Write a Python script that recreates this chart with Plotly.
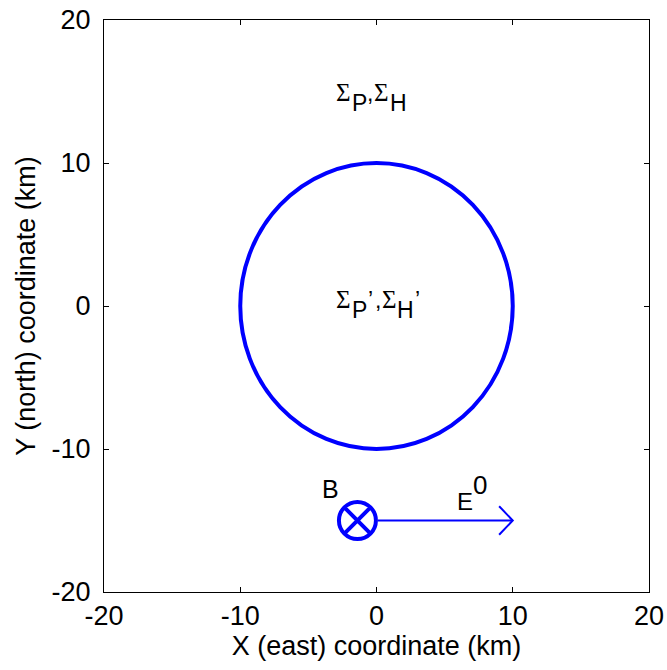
import plotly.graph_objects as go

# Region boundary: circle of radius 10 km centred at the origin
circle_center = [0, 0]
circle_radius = 10

# Magnetic field marker (into the page) and electric field arrow
b_pos = [-1.4, -15]
e_shaft_x = [0.1, 10]
e_shaft_y = [-15, -15]
e_head_x = [9, 10, 9]
e_head_y = [-14, -15, -16]

# Axes
axis_range = [-20, 20]
tick_vals = [-20, -10, 0, 10, 20]
tick_text = ["-20", "-10", "0", "10", "20"]

BLUE = "#0000ff"
FONT = "Liberation Sans, Arial, sans-serif"
SERIF = "Liberation Serif, Times New Roman, serif"

fig = go.Figure()

fig.add_trace(go.Scatter(x=e_shaft_x, y=e_shaft_y, mode="lines",
                         line=dict(color=BLUE, width=2), hoverinfo="skip"))
fig.add_trace(go.Scatter(x=e_head_x, y=e_head_y, mode="lines",
                         line=dict(color=BLUE, width=2), hoverinfo="skip"))
fig.add_trace(go.Scatter(x=[b_pos[0]], y=[b_pos[1]], mode="markers",
                         marker=dict(symbol="circle-x-open", size=37, color=BLUE,
                                     line=dict(color=BLUE, width=4)),
                         hoverinfo="skip"))

fig.add_shape(type="circle", xref="x", yref="y",
              x0=circle_center[0] - circle_radius, x1=circle_center[0] + circle_radius,
              y0=circle_center[1] - circle_radius, y1=circle_center[1] + circle_radius,
              line=dict(color=BLUE, width=4))


def label(text, x, y, size=23, family=FONT):
    fig.add_annotation(x=x, y=y, text=text, showarrow=False,
                       xanchor="center", yanchor="middle",
                       font=dict(family=family, size=size, color="black"))


# Conductances outside the circle: Sigma_P, Sigma_H
label("Σ", -2.45, 14.9, 25, SERIF)
label("P", -1.25, 14.2)
label(",", -0.50, 14.9)
label("Σ", 0.35, 14.9, 25, SERIF)
label("H", 1.65, 14.2)

# Conductances inside the circle: Sigma_P', Sigma_H'
label("Σ", -2.45, 0.45, 25, SERIF)
label("P", -1.25, -0.25)
label("’", -0.45, 0.45)
label(",", 0.10, 0.45)
label("Σ", 0.95, 0.45, 25, SERIF)
label("H", 2.10, -0.25)
label("’", 3.0, 0.45)

# Field labels
label("B", -3.4, -12.8, 25)
label("E", 6.5, -13.67, 24)
label("0", 7.6, -12.55, 26)

axis_common = dict(range=axis_range, tickvals=tick_vals, ticktext=tick_text,
                   ticks="inside", ticklen=5, tickwidth=1, tickcolor="black",
                   showline=True, linecolor="black", linewidth=1, mirror="ticks",
                   showgrid=False, zeroline=False, automargin=False,
                   tickfont=dict(family=FONT, size=27, color="black"))

fig.update_xaxes(**axis_common,
                 title=dict(text="X (east) coordinate (km)",
                            font=dict(family=FONT, size=27, color="black"),
                            standoff=4))
fig.update_yaxes(**axis_common, ticklabelstandoff=7,
                 title=dict(text="Y (north) coordinate (km)",
                            font=dict(family=FONT, size=27, color="black"),
                            standoff=8))

fig.update_layout(width=667, height=670, showlegend=False,
                  paper_bgcolor="white", plot_bgcolor="white",
                  margin=dict(l=104, r=18, t=20, b=78))

fig.write_html("out.html")
